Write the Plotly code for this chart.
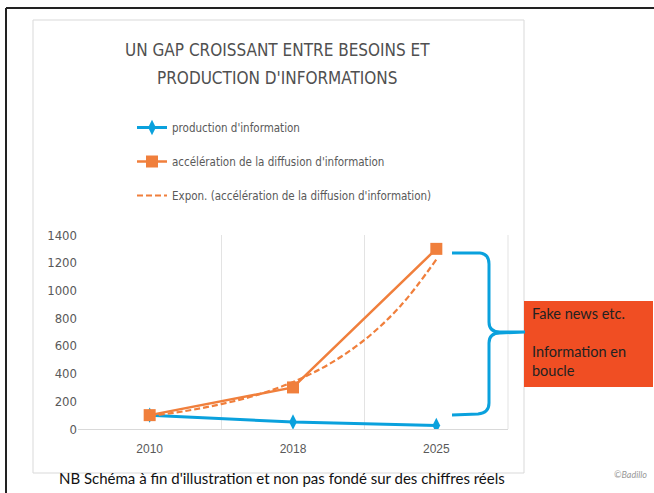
import plotly.graph_objects as go

# ---- data ----
years = ["2010", "2018", "2025"]
production = [100, 50, 25]
acceleration = [100, 300, 1300]
# exponential trend line at quarter-steps between years
trend_steps = [0, 0.25, 0.5, 0.75, 1, 1.25, 1.5, 1.75, 2]
trend_values = [94, 130, 180, 246, 339, 467, 644, 888, 1223]
y_ticks = [0, 200, 400, 600, 800, 1000, 1200, 1400]

W, H = 654, 493
L, R, T, B = 78, 508, 235, 429   # plot area in pixels


def px(x):
    return (x - L) / (R - L)


def py(y):
    return (B - y) / (B - T)


BLUE = "#0AA1DD"
ORANGE = "#F07F3C"
GRAY = "#595959"
NARROW = "Liberation Sans Narrow, DejaVu Sans Condensed, Arial Narrow, sans-serif"

idx = list(range(len(years)))

fig = go.Figure()
fig.add_trace(go.Scatter(
    x=idx, y=production, name="production d'information", mode="lines+markers",
    line=dict(color=BLUE, width=3), marker=dict(symbol="diamond-tall", size=11, color=BLUE),
    legendgroup="a"))
fig.add_trace(go.Scatter(
    x=idx, y=acceleration, name="accélération de la diffusion d'information",
    mode="lines+markers", line=dict(color=ORANGE, width=2.5),
    marker=dict(symbol="square", size=12, color=ORANGE), legendgroup="b"))
fig.add_trace(go.Scatter(
    x=trend_steps, y=trend_values, name="Expon. (accélération de la diffusion d'information)",
    mode="lines", line=dict(color=ORANGE, width=2.2, dash="6px,3px", shape="spline"),
    legendgroup="c"))

shapes = []
# outer black border (slide frame)
shapes.append(dict(type="line", xref="paper", yref="paper", x0=px(6), x1=px(660),
                   y0=py(8), y1=py(8), line=dict(color="#222222", width=2)))
shapes.append(dict(type="line", xref="paper", yref="paper", x0=px(6), x1=px(6),
                   y0=py(8), y1=py(500), line=dict(color="#222222", width=2)))
# light chart frame
shapes.append(dict(type="rect", xref="paper", yref="paper", x0=px(33), x1=px(524),
                   y0=py(473), y1=py(20), line=dict(color="#D9D9D9", width=1),
                   layer="below"))
# right border of plot area
shapes.append(dict(type="line", xref="paper", yref="paper", x0=1, x1=1, y0=0, y1=1,
                   line=dict(color="#E3E3E3", width=1), layer="below"))
# orange box
shapes.append(dict(type="rect", xref="paper", yref="paper", x0=px(524), x1=px(653),
                   y0=py(387), y1=py(301), line=dict(width=0), fillcolor="#F04E23"))
# curly brace
pts = [
    ("M", [(452, 253)]),
    ("L", [(480, 253)]),
    ("Q", [(489, 254), (489, 264)]),
    ("L", [(489, 322)]),
    ("Q", [(489, 332), (500, 332)]),
    ("L", [(525, 332)]),
    ("M", [(525, 332)]),
    ("L", [(500, 333)]),
    ("Q", [(489, 333), (489, 343)]),
    ("L", [(489, 403)]),
    ("Q", [(489, 413), (478, 414)]),
    ("L", [(452, 415)]),
]
path = ""
for cmd, ps in pts:
    path += cmd + " ".join(f"{px(a):.5f},{py(b):.5f}" for a, b in ps) + " "
shapes.append(dict(type="path", xref="paper", yref="paper", path=path.strip(),
                   line=dict(color=BLUE, width=3)))

annotations = [
    dict(xref="paper", yref="paper", x=px(277), y=py(50), xanchor="center", yanchor="middle",
         text="UN GAP CROISSANT ENTRE BESOINS ET", showarrow=False,
         font=dict(family=NARROW, size=17, color="#505050")),
    dict(xref="paper", yref="paper", x=px(277), y=py(78), xanchor="center", yanchor="middle",
         text="PRODUCTION D'INFORMATIONS", showarrow=False,
         font=dict(family=NARROW, size=17, color="#505050")),
    dict(xref="paper", yref="paper", x=px(530), y=py(303), xanchor="left", yanchor="top",
         text="Fake news etc.<br><br>Information en<br>boucle", showarrow=False, align="left",
         font=dict(family="Lato, Open Sans, sans-serif", size=14.5, color="#222222")),
    dict(xref="paper", yref="paper", x=px(282), y=py(478), xanchor="center", yanchor="middle",
         text="NB Schéma à fin d'illustration et non pas fondé sur des chiffres réels",
         showarrow=False, font=dict(family="Lato, Open Sans, sans-serif", size=15, color="#111111")),
    dict(xref="paper", yref="paper", x=px(630), y=py(474), xanchor="center", yanchor="middle",
         text="<i>©Badillo</i>", showarrow=False,
         font=dict(family="Lato, sans-serif", size=9, color="#999999")),
]

fig.update_layout(
    width=W, height=H,
    margin=dict(l=L, r=W - R, t=T, b=H - B, autoexpand=False),
    paper_bgcolor="white", plot_bgcolor="white",
    showlegend=True,
    legend=dict(x=px(132), y=py(113), xanchor="left", yanchor="top",
                font=dict(family=NARROW, size=11.5, color=GRAY),
                bgcolor="rgba(0,0,0,0)", tracegroupgap=15, itemwidth=30),
    xaxis=dict(range=[-0.5, 2.5], tickvals=idx, ticktext=years, showgrid=False,
               showline=True, linecolor="#D9D9D9", linewidth=1, zeroline=False,
               ticks="", ticklabelstandoff=9,
               tickfont=dict(family="Liberation Sans, sans-serif", size=12, color=GRAY),
               minor=dict(tickvals=[0.5, 1.5], showgrid=True, gridcolor="#E3E3E3",
                          gridwidth=1, ticks=""),
               fixedrange=True),
    yaxis=dict(range=[0, 1400], tickvals=y_ticks, showgrid=False, zeroline=False,
               showline=False, ticks="", tickfont=dict(family=NARROW, size=13, color=GRAY),
               fixedrange=True),
    shapes=shapes, annotations=annotations,
)

fig.write_html("out.html", config={"displayModeBar": False},
               post_script="document.body.style.margin='0px';")
